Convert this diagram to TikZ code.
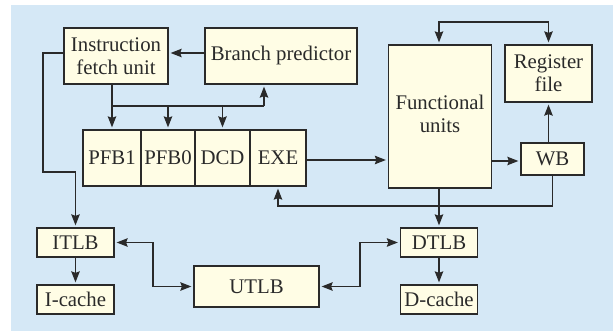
\documentclass[tikz,border=0pt]{standalone}
\usepackage{fontspec}
\setmainfont{Liberation Serif}
\usetikzlibrary{arrows.meta}
\definecolor{bgblue}{HTML}{D5E8F6}
\definecolor{boxfill}{HTML}{FFFDE5}
\definecolor{ink}{HTML}{2A2A2A}
\begin{document}
\begin{tikzpicture}[x=1pt,y=-1pt,
  box/.style={draw=ink,line width=1.3pt,fill=boxfill,inner sep=0pt,align=center,
    font=\fontsize{20.8}{23}\selectfont,text=ink},
  conn/.style={draw=ink,line width=1.2pt},
  arr/.style={conn,-{Stealth[length=11pt,width=8.5pt,inset=1.5pt]},shorten >=2pt},
  darr/.style={conn,{Stealth[length=11pt,width=8.5pt,inset=1.5pt]}-{Stealth[length=11pt,width=8.5pt,inset=1.5pt]},shorten >=2pt,shorten <=2pt}]
\useasboundingbox (0,0) rectangle (613,331);
\fill[white] (0,0) rectangle (613,331);
\fill[bgblue] (11,5) rectangle (613,331);
% nodes
\node[box,minimum width=104pt,minimum height=56pt] (IFU) at (116,56) {Instruction\\fetch unit};
\node[box,minimum width=152pt,minimum height=56pt] (BP) at (281,56) {Branch predictor};
\node[box,minimum width=58pt,minimum height=56pt] (PFB1) at (112,158) {PFB1};
\node[box,minimum width=54pt,minimum height=56pt] (PFB0) at (168,158) {PFB0};
\node[box,minimum width=55pt,minimum height=56pt] (DCD) at (222.5,158) {DCD};
\node[box,minimum width=56pt,minimum height=56pt] (EXE) at (278,158) {EXE};
\node[box,minimum width=103pt,minimum height=143pt] (FU) at (440,116.5) {\raisebox{-5pt}{\begin{tabular}{@{}c@{}}Functional\\units\end{tabular}}};
\node[box,minimum width=87pt,minimum height=57pt] (RF) at (548.5,73.5) {Register\\file};
\node[box,minimum width=63pt,minimum height=32pt] (WB) at (552.5,159) {WB};
\node[box,minimum width=77pt,minimum height=29pt] (DTLB) at (439,242.5) {DTLB};
\node[box,minimum width=77pt,minimum height=29pt] (DC) at (439,299.5) {D-cache};
\node[box,minimum width=77pt,minimum height=29pt] (ITLB) at (75.5,242.5) {ITLB};
\node[box,minimum width=77pt,minimum height=29pt] (IC) at (75.5,299.5) {I-cache};
\node[box,minimum width=125pt,minimum height=41pt] (UTLB) at (256.5,286.5) {UTLB};
% helper coordinates
\coordinate (j) at (112,106);
\coordinate (k) at (264,106);
\coordinate (a) at (43,172);
\coordinate (t) at (0,22);
\coordinate (b) at (0,206);
\coordinate (m1) at (153,264);
\coordinate (m2) at (360,264);
% connectors
\draw[arr] ([yshift=3pt]BP.west) -- ([yshift=3pt]IFU.east);
\draw[arr] ([yshift=3pt]IFU.west) -| (a) -| (ITLB.north);
\draw[arr] (IFU.south -| j) -- (PFB1.north);
\draw[conn] (j) -- (k);
\draw[arr] (k) -- (k |- BP.south);
\draw[arr] (PFB0.north |- j) -- (PFB0.north);
\draw[arr] (DCD.north |- j) -- (DCD.north);
\draw[arr] ([yshift=-2pt]EXE.east) -- ([yshift=-2pt]EXE.east -| FU.west);
\draw[arr] ([yshift=-2pt]WB.west -| FU.east) -- ([yshift=-2pt]WB.west);
\draw[arr] (RF.south |- WB.north) -- (RF.south);
\draw[darr] ([xshift=-1pt]FU.north) -- ([xshift=-1pt]FU.north |- t) -- (RF.north |- t) -- (RF.north);
\draw[arr] (WB.south) -- (WB.south |- b) -- (EXE.south |- b) -- (EXE.south);
\draw[arr] (DTLB.north |- FU.south) -- (DTLB.north);
\draw[arr] (DTLB.south) -- (DC.north);
\draw[arr] (ITLB.south) -- (IC.north);
\draw[darr] (ITLB.east) -| (m1) |- (UTLB.west);
\draw[darr] (UTLB.east) -| (m2) |- (DTLB.west);
\end{tikzpicture}
\end{document}
